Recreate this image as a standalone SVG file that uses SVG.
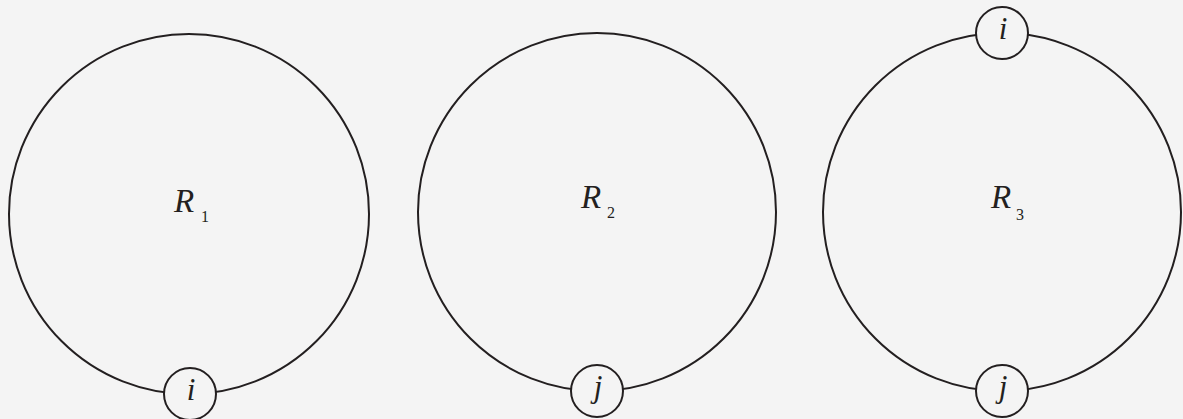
<svg xmlns="http://www.w3.org/2000/svg" width="1183" height="419" viewBox="0 0 1183 419">
<style>
.big{fill:none;stroke:#231f20;stroke-width:2}
.small{fill:#f4f4f4;stroke:#231f20;stroke-width:2}
text{font-family:'Liberation Serif','Times New Roman','DejaVu Serif',serif;fill:#231f20}
.lbl{font-style:italic;font-size:33px}
.sub{font-size:16px}
.nl{font-style:italic;font-size:31px;text-anchor:middle}
</style>
<rect width="1183" height="419" fill="#f4f4f4"/>
<g id="region-R1">
<circle class="big" cx="189" cy="214" r="180"/>
<text class="lbl" x="174" y="212">R</text><text class="sub" x="201" y="222">1</text>
</g>
<g id="region-R2">
<circle class="big" cx="597" cy="212" r="179"/>
<text class="lbl" x="581" y="208">R</text><text class="sub" x="607" y="218">2</text>
</g>
<g id="region-R3">
<circle class="big" cx="1002" cy="212" r="179"/>
<text class="lbl" x="991" y="208">R</text><text class="sub" x="1016" y="220">3</text>
</g>
<g id="connectors"></g>
<g id="node-R1-i">
<circle class="small" cx="190" cy="394" r="26"/>
<text class="nl" x="191" y="400">i</text>
</g>
<g id="node-R2-j">
<circle class="small" cx="597" cy="391" r="26"/>
<text class="nl" x="598" y="397">j</text>
</g>
<g id="node-R3-i">
<circle class="small" cx="1002" cy="33" r="26"/>
<text class="nl" x="1003" y="39">i</text>
</g>
<g id="node-R3-j">
<circle class="small" cx="1002" cy="391" r="26"/>
<text class="nl" x="1003" y="397">j</text>
</g>
</svg>
